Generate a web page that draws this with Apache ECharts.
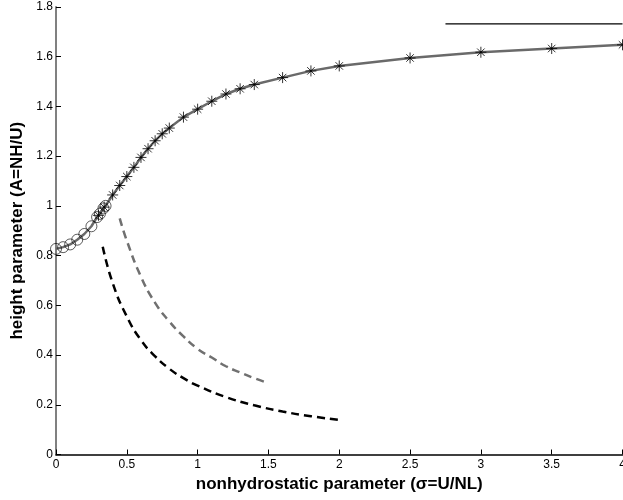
<!DOCTYPE html>
<html>
<head>
<meta charset="utf-8">
<script src="https://cdn.jsdelivr.net/npm/echarts@6/dist/echarts.min.js"></script>
<style>html,body{margin:0;padding:0;background:#fff;overflow:hidden;}#c{width:623px;height:500px;}</style>
</head>
<body>
<div id="c"></div>
<script>
// Main curve: circle-marked points (small sigma)
var circleX = [0, 0.05, 0.1, 0.15, 0.2, 0.25, 0.29, 0.31, 0.335, 0.35];
var circleY = [0.827, 0.834, 0.845, 0.864, 0.887, 0.918, 0.955, 0.968, 0.99, 1.0];
// Main curve: star-marked points
var starX = [0.3, 0.34, 0.4, 0.45, 0.5, 0.55, 0.6, 0.65, 0.7, 0.75, 0.8, 0.9, 1.0, 1.1, 1.2, 1.3, 1.4, 1.6, 1.8, 2.0, 2.5, 3.0, 3.5, 4.0];
var starY = [0.962, 0.995, 1.044, 1.082, 1.118, 1.155, 1.195, 1.23, 1.262, 1.29, 1.313, 1.357, 1.389, 1.421, 1.45, 1.471, 1.488, 1.516, 1.543, 1.563, 1.595, 1.618, 1.633, 1.648];
// Black dashed curve
var blackDashX = [0.33, 0.4, 0.5, 0.6, 0.7, 0.8, 0.9, 1.0, 1.2, 1.4, 1.6, 1.8, 2.0];
var blackDashY = [0.836, 0.69, 0.555, 0.46, 0.395, 0.345, 0.307, 0.277, 0.231, 0.198, 0.173, 0.154, 0.139];
// Gray dashed curve
var grayDashX = [0.45, 0.5, 0.6, 0.7, 0.8, 0.9, 1.0, 1.1, 1.2, 1.3, 1.4, 1.5];
var grayDashY = [0.95, 0.86, 0.715, 0.61, 0.535, 0.475, 0.425, 0.39, 0.355, 0.33, 0.307, 0.287];
// Horizontal asymptote line
var asymX = [2.75, 4.0];
var asymY = [1.732, 1.732];

function zip(xs, ys) { return xs.map(function (x, i) { return [x, ys[i]]; }); }
var mainPts = zip(circleX, circleY).concat(zip(starX, starY)).sort(function (a, b) { return a[0] - b[0]; });

var starPath = 'path://M0,5L10,5M5,0L5,10M1.6,1.6L8.4,8.4M8.4,1.6L1.6,8.4';

var chart = echarts.init(document.getElementById('c'), null, {renderer: 'canvas'});
chart.setOption({
  animation: false,
  backgroundColor: '#fff',
  grid: {left: 56, right: 0.5, top: 7, bottom: 45.5, containLabel: false, outerBoundsMode: 'none'},
  xAxis: {
    type: 'value', min: 0, max: 4, interval: 0.5,
    name: 'nonhydrostatic parameter (\u03c3=U/NL)',
    nameLocation: 'middle', nameGap: 20,
    nameTextStyle: {fontFamily: 'Liberation Sans', fontWeight: 'bold', fontSize: 17, color: '#000'},
    axisLine: {lineStyle: {color: '#000', width: 1.5}},
    axisTick: {inside: true, length: 5, lineStyle: {color: '#000'}},
    axisLabel: {fontFamily: 'Liberation Sans', fontSize: 12, color: '#000', margin: 4},
    splitLine: {show: false}
  },
  yAxis: {
    type: 'value', min: 0, max: 1.8, interval: 0.2,
    name: 'height parameter (A=NH/U)',
    nameLocation: 'middle', nameGap: 29,
    nameTextStyle: {fontFamily: 'Liberation Sans', fontWeight: 'bold', fontSize: 17, color: '#000'},
    axisLine: {lineStyle: {color: '#808080', width: 2}},
    axisTick: {inside: true, length: 5, lineStyle: {color: '#000'}},
    axisLabel: {fontFamily: 'Liberation Sans', fontSize: 12, color: '#000', margin: 3},
    splitLine: {show: false}
  },
  series: [
    {type: 'line', data: mainPts, showSymbol: false, symbol: 'none',
     lineStyle: {color: '#6a6a6a', width: 2.5}, z: 2},
    {type: 'line', data: zip(blackDashX, blackDashY), symbol: 'none', smooth: true,
     lineStyle: {color: '#000', width: 2.5, type: [8, 5]}, z: 2},
    {type: 'line', data: zip(grayDashX, grayDashY), symbol: 'none', smooth: true,
     lineStyle: {color: '#707070', width: 2.5, type: [8, 5]}, z: 2},
    {type: 'line', data: zip(asymX, asymY), symbol: 'none',
     lineStyle: {color: '#000', width: 1.2}, z: 2},
    {type: 'scatter', data: zip(circleX, circleY), symbol: 'circle', symbolSize: 11,
     itemStyle: {color: 'rgba(0,0,0,0)', borderColor: '#000', borderWidth: 0.8}, z: 3},
    {type: 'scatter', data: zip(starX, starY), symbol: starPath, symbolSize: 11,
     itemStyle: {color: 'rgba(0,0,0,0)', borderColor: '#000', borderWidth: 1}, z: 4}
  ]
});
</script>
</body>
</html>
